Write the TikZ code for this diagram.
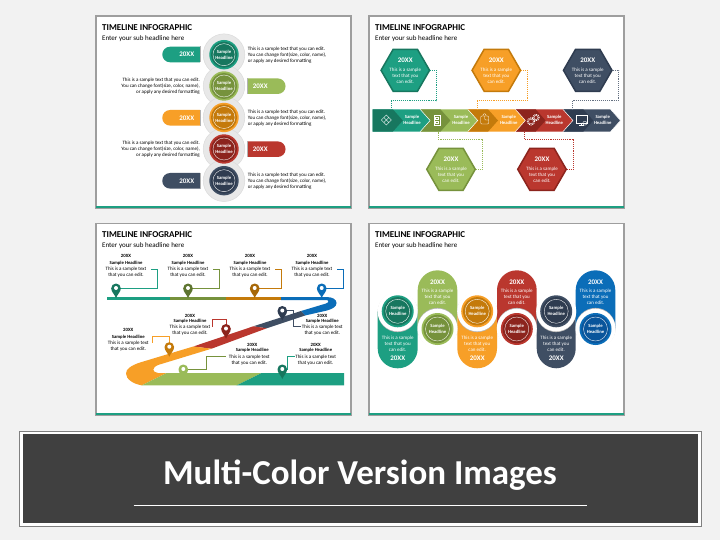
\documentclass[tikz,border=0pt]{standalone}
\usepackage{fontspec}
\setmainfont{Carlito}
\usetikzlibrary{shapes.geometric, shapes.misc}
\definecolor{cPage}{HTML}{F2F2F2}
\definecolor{cInk}{HTML}{404040}
\definecolor{cTeal}{HTML}{1D9F82}
\definecolor{cTealD}{HTML}{17775F}
\definecolor{cGreen}{HTML}{9ABB59}
\definecolor{cGreenD}{HTML}{76923C}
\definecolor{cOrange}{HTML}{F79F27}
\definecolor{cOrangeD}{HTML}{C47A0B}
\definecolor{cRed}{HTML}{BA372E}
\definecolor{cRedD}{HTML}{8C241D}
\definecolor{cNavy}{HTML}{3F4E63}
\definecolor{cNavyD}{HTML}{2F3C50}
\definecolor{cBlue}{HTML}{0B6DB8}
\definecolor{cBlueD}{HTML}{0A559B}
\tikzset{
    objSlide/.style={rectangle, fill=white, draw=black!38, line width=1.5pt, minimum width=255pt, minimum height=192pt, inner sep=0pt},
    objBar/.style={rectangle, fill=cTeal, minimum width=255pt, minimum height=2.3pt, inner sep=0pt},
    objTitle/.style={anchor=west, inner sep=0pt, font=\fontsize{9}{11}\selectfont\bfseries},
    objSub/.style={anchor=west, inner sep=0pt, font=\fontsize{7}{9}\selectfont},
    objBody/.style={inner sep=0pt, align=center, font=\fontsize{5}{6}\selectfont},
    objBodyW/.style={objBody, text=white},
    objBold/.style={objBody, font=\fontsize{4.7}{6}\selectfont\bfseries},
    objYear/.style={inner sep=0pt, font=\fontsize{7}{8}\selectfont\bfseries, text=white},
    objYearK/.style={inner sep=0pt, font=\fontsize{4.8}{6}\selectfont\bfseries},
    objHalo/.style={circle, fill=black!9, draw=black!14, line width=.5pt, minimum size=41.6pt, inner sep=0pt},
    objPillL/.style={rounded rectangle, rounded rectangle east arc=none, minimum width=37.7pt, minimum height=15.6pt, inner sep=0pt},
    objPillR/.style={rounded rectangle, rounded rectangle west arc=none, minimum width=37.7pt, minimum height=15.6pt, inner sep=0pt},
    objBevel/.style={black!30, line width=.7pt},
    objHex/.style={regular polygon, regular polygon sides=6, minimum size=48.5pt, line width=1.5pt, inner sep=0pt},
    objDots/.style={line width=.9pt, dash pattern=on 1pt off .9pt},
    objIcon/.style={white, line width=.4pt},
    objLead/.style={line width=.6pt},
    objNotch/.style={circle, fill=white, minimum size=40pt, inner sep=0pt},
    objShade/.style={circle, fill=black!28, minimum size=40pt, inner sep=0pt}
}
\newcommand{\sampleDisc}[5]{
    \node (#1ring) [circle, fill=#3, minimum size=#5pt, inner sep=0pt] at (#2) {};
    \node (#1band) [circle, fill=#4, minimum size=.885*#5pt, inner sep=0pt] at (#2) {};
    \node (#1) [circle, fill=#4, draw=white, line width=.35pt, minimum size=.75*#5pt, inner sep=0pt, text=white, align=center, font=\fontsize{4.7}{6}\selectfont\bfseries] at (#2) {Sample\\Headline};
}
\newcommand{\bandStep}[4]{
    \coordinate (#1) at (#2,109.3);
    \fill[#3] (#1) -- ++(47.6,0) -- ++(10,11.2) -- ++(-10,11.2) -- ++(-47.6,0) -- cycle;
    \draw[white, line width=.5pt] (#1) ++(47.6,0) -- ++(10,11.2) -- ++(-10,11.2);
    \fill[#4] (#1) -- ++(20.3,0) -- ++(10,11.2) -- ++(-10,11.2) -- ++(-20.3,0) -- cycle;
}
\newcommand{\mapPin}[2]{
    \fill[#2, shift={(#1)}] (0,10) .. controls (-1.2,6.5) and (-4.8,4) .. (-4.8,.3) .. controls (-4.8,-2.4) and (-2.7,-4.5) .. (0,-4.5) .. controls (2.7,-4.5) and (4.8,-2.4) .. (4.8,.3) .. controls (4.8,4) and (1.2,6.5) .. (0,10) -- cycle;
    \node (#1hole) [circle, fill=white, minimum size=4pt, inner sep=0pt] at (#1) {};
}
\begin{document}
\begin{tikzpicture}[x=1pt, y=-1pt, node distance=7.6pt]
    \useasboundingbox (0,0) rectangle (720,540);
    \fill[cPage] (0,0) rectangle (720,540);

    \node (slideA) [objSlide] at (223.5,112) {};
    \node (barA) [objBar] at (223.5,206.9) {};
    \node (slideB) [objSlide] at (496.5,112) {};
    \node (barB) [objBar] at (496.5,206.9) {};
    \node (slideC) [objSlide] at (223.5,319.5) {};
    \node (barC) [objBar] at (223.5,414.2) {};
    \node (slideD) [objSlide] at (496.5,319.5) {};
    \node (barD) [objBar] at (496.5,414.2) {};

    \node (titleA) [objTitle] at (102,27.3) {TIMELINE INFOGRAPHIC};
    \node (subA) [objSub] at (102,38.3) {Enter your sub headline here};
    \node (titleB) [objTitle] at (375,27.3) {TIMELINE INFOGRAPHIC};
    \node (subB) [objSub] at (375,38.3) {Enter your sub headline here};
    \node (titleC) [objTitle] at (102,234.3) {TIMELINE INFOGRAPHIC};
    \node (subC) [objSub] at (102,245.3) {Enter your sub headline here};
    \node (titleD) [objTitle] at (375,234.3) {TIMELINE INFOGRAPHIC};
    \node (subD) [objSub] at (375,245.3) {Enter your sub headline here};

    \node (halo1) [objHalo] at (224,54.7) {};
    \node (halo2) [objHalo] at (224,86) {};
    \node (halo3) [objHalo] at (224,117.5) {};
    \node (halo4) [objHalo] at (224,149) {};
    \node (halo5) [objHalo] at (224,180.7) {};
    \sampleDisc{disc1}{224,54.7}{cTeal}{cTealD}{29.4}
    \sampleDisc{disc2}{224,86}{cGreen}{cGreenD}{29.4}
    \sampleDisc{disc3}{224,117.5}{cOrange}{cOrangeD}{29.4}
    \sampleDisc{disc4}{224,149}{cRed}{cRedD}{29.4}
    \sampleDisc{disc5}{224,180.7}{cNavy}{cNavyD}{29.4}

    \node (pill1) [objPillL, fill=cTeal] at (181.1,54.5) {};
    \node (pill2) [objPillR, fill=cGreen] at (266.7,86.2) {};
    \node (pill3) [objPillL, fill=cOrange] at (181.1,117.8) {};
    \node (pill4) [objPillR, fill=cRed] at (266.7,149.2) {};
    \node (pill5) [objPillL, fill=cNavy] at (181.1,180.8) {};
    \draw[objBevel] (pill1.north east) -- (pill1.south east);
    \draw[objBevel] (pill2.north west) -- (pill2.south west);
    \draw[objBevel] (pill3.north east) -- (pill3.south east);
    \draw[objBevel] (pill4.north west) -- (pill4.south west);
    \draw[objBevel] (pill5.north east) -- (pill5.south east);
    \node (year1) [objYear] at (186.7,54.5) {20XX};
    \node (year2) [objYear] at (260.3,86.2) {20XX};
    \node (year3) [objYear] at (186.7,117.8) {20XX};
    \node (year4) [objYear] at (260.3,149.2) {20XX};
    \node (year5) [objYear] at (186.7,180.8) {20XX};

    \node (text1) [objBody, anchor=west, align=left] at (247.7,54.7) {This is a sample text that you can edit.\\You can change font(size, color, name),\\or apply any desired formatting};
    \node (text2) [objBody, anchor=east, align=right] at (200,86) {This is a sample text that you can edit.\\You can change font(size, color, name),\\or apply any desired formatting};
    \node (text3) [objBody, anchor=west, align=left] at (247.7,118) {This is a sample text that you can edit.\\You can change font(size, color, name),\\or apply any desired formatting};
    \node (text4) [objBody, anchor=east, align=right] at (200,149.3) {This is a sample text that you can edit.\\You can change font(size, color, name),\\or apply any desired formatting};
    \node (text5) [objBody, anchor=west, align=left] at (247.7,181) {This is a sample text that you can edit.\\You can change font(size, color, name),\\or apply any desired formatting};

    \bandStep{stepE}{562.9}{cNavy}{cNavyD}
    \bandStep{stepD}{515.3}{cRed}{cRedD}
    \bandStep{stepC}{467.7}{cOrange}{cOrangeD}
    \bandStep{stepB}{420.1}{cGreen}{cGreenD}
    \bandStep{stepA}{372.5}{cTeal}{cTealD}
    \node (headA) [objBold, text=white] at (412,120) {Sample\\Headline};
    \node (headB) [objBold, text=white] at (461,120) {Sample\\Headline};
    \node (headC) [objBold, text=white] at (508.7,120) {Sample\\Headline};
    \node (headD) [objBold, text=white] at (554.3,120) {Sample\\Headline};
    \node (headE) [objBold, text=white] at (602.7,120) {Sample\\Headline};

    \draw[objIcon] (381.3,120) -- (386.3,115) -- (391.3,120) -- (386.3,125) -- cycle (383.8,117.5) -- (388.8,122.5) (388.8,117.5) -- (383.8,122.5);
    \draw[objIcon] (434,115) rectangle (440,125) (435.5,117) rectangle (438.5,119.5) (435.5,121) rectangle (438.5,123.5);
    \draw[objIcon, rounded corners=1pt] (480.7,116) rectangle (488.7,124) (483,116) -- (483,113.8) -- (486,113.8) -- (486,116) (484.7,116) -- (484.7,120) -- (488.7,120);
    \draw[objIcon] (531,121.5) circle (2.4pt) (536,117.5) circle (2pt);
    \draw[white, line width=1pt, dash pattern=on .9pt off .9pt] (531,121.5) circle (3.6pt) (536,117.5) circle (3.1pt);
    \draw[objIcon] (575.8,115) rectangle (586.8,123) (579,125) -- (583.6,125) (581.3,123) -- (581.3,125);
    \draw[objIcon] (584.8,123.2) circle (2pt);

    \node (hexA) [objHex, fill=cTeal, draw=cTealD] at (405.3,70.3) {};
    \node (hexB) [objHex, fill=cOrange, draw=cOrangeD] at (496.3,70.3) {};
    \node (hexC) [objHex, fill=cNavy, draw=cNavyD] at (587.7,70.3) {};
    \node (hexD) [objHex, fill=cGreen, draw=cGreenD] at (451,169.3) {};
    \node (hexE) [objHex, fill=cRed, draw=cRedD] at (542,169.3) {};
    \node (hexAyear) [objYear] at (405.3,60.7) {20XX};
    \node (hexByear) [objYear] at (496.3,60.7) {20XX};
    \node (hexCyear) [objYear] at (587.7,60.7) {20XX};
    \node (hexDyear) [objYear] at (451,159.4) {20XX};
    \node (hexEyear) [objYear] at (542,159.4) {20XX};
    \node (hexAtext) [objBodyW] at (405.3,76) {This is a sample\\text that you\\can edit.};
    \node (hexBtext) [objBodyW] at (496.3,76) {This is a sample\\text that you\\can edit.};
    \node (hexCtext) [objBodyW] at (587.7,76) {This is a sample\\text that you\\can edit.};
    \node (hexDtext) [objBodyW] at (451,175) {This is a sample\\text that you\\can edit.};
    \node (hexEtext) [objBodyW] at (542,175) {This is a sample\\text that you\\can edit.};

    \coordinate (dropA) at (391,109.3);
    \coordinate (dropB) at (477,109.3);
    \coordinate (dropC) at (572,109.3);
    \coordinate (dropD) at (438,131.7);
    \coordinate (dropE) at (524.3,131.7);
    \draw[objDots, cTeal] (hexA.east) -- ++(5.7,0) -- ++(0,30.4) -| (dropA);
    \draw[objDots, cOrange] (hexB.east) -- ++(6,0) -- ++(0,30.4) -| (dropB);
    \draw[objDots, cNavy!80] (hexC.east) -- ++(6,0) -- ++(0,30.4) -| (dropC);
    \draw[objDots, cGreen] (hexD.east) -- ++(6,0) -- ++(0,-30.3) -| (dropD);
    \draw[objDots, cRed] (hexE.east) -- ++(6,0) -- ++(0,-30.3) -| (dropE);

    \fill[cTeal] (106.7,297) rectangle (170,300);
    \fill[cGreenD] (170,297) rectangle (225.7,300);
    \fill[cOrangeD] (225.7,297) rectangle (281,300);
    \fill[cBlue] (281,297) -- (326,297) .. controls (333,297) and (336.5,299.5) .. (336.5,303) .. controls (336.5,306.5) and (333,308.8) .. (327,310.5) -- (305,315.5) -- (301,311) -- (326,303.5) .. controls (329,302.5) and (329.5,300) .. (326,300) -- (281,300) -- cycle;
    \fill[cNavy] (253.3,326.3) -- (301,311) -- (305,315.5) -- (266.7,328.3) -- cycle;
    \fill[cRed] (193.3,346.5) -- (253.3,326.3) -- (266.7,328.3) -- (211.5,348.7) -- cycle;
    \fill[cOrange] (193.3,346.5) -- (140,362.5) .. controls (131,365.5) and (126,369) .. (126,373.5) .. controls (126,379) and (133,384) .. (141.7,385.3) -- (166.7,373) -- (158,373) .. controls (152,372) and (151.5,368) .. (158,365) -- (211.5,348.7) -- cycle;
    \fill[cGreen] (141.7,385.3) -- (166.7,373) -- (261.7,373) -- (236.7,385.3) -- cycle;
    \fill[cTeal] (236.7,385.3) -- (261.7,373) -- (344,373) -- (344,385.3) -- cycle;

    \coordinate (pinA) at (116,288);
    \coordinate (pinB) at (188,288);
    \coordinate (pinC) at (254.7,288);
    \coordinate (pinD) at (321.7,288);
    \coordinate (pinE) at (169.3,346.7);
    \coordinate (pinF) at (226,328.5);
    \coordinate (pinG) at (282.3,310.5);
    \coordinate (pinH) at (183.3,369);
    \coordinate (pinI) at (282.3,369);

    \node (yearA) [objYearK] at (126,255.7) {20XX};
    \node (nameA) [objBold, below of=yearA] {Sample Headline};
    \node (bodyA) [objBody, below of=nameA, yshift=-1.6pt] {This is a sample text\\that you can edit.};
    \node (yearB) [objYearK] at (188,255.7) {20XX};
    \node (nameB) [objBold, below of=yearB] {Sample Headline};
    \node (bodyB) [objBody, below of=nameB, yshift=-1.6pt] {This is a sample text\\that you can edit.};
    \node (yearC) [objYearK] at (250,255.7) {20XX};
    \node (nameC) [objBold, below of=yearC] {Sample Headline};
    \node (bodyC) [objBody, below of=nameC, yshift=-1.6pt] {This is a sample text\\that you can edit.};
    \node (yearD) [objYearK] at (312,255.7) {20XX};
    \node (nameD) [objBold, below of=yearD] {Sample Headline};
    \node (bodyD) [objBody, below of=nameD, yshift=-1.6pt] {This is a sample text\\that you can edit.};
    \node (yearE) [objYearK] at (128.3,330.3) {20XX};
    \node (nameE) [objBold, below of=yearE, yshift=1pt] {Sample Headline};
    \node (bodyE) [objBody, below of=nameE, yshift=-1.6pt] {This is a sample text\\that you can edit.};
    \node (yearF) [objYearK] at (190,315.7) {20XX};
    \node (nameF) [objBold, below of=yearF, yshift=2.3pt] {Sample Headline};
    \node (bodyF) [objBody, below of=nameF, yshift=-1.6pt] {This is a sample text\\that you can edit.};
    \node (yearG) [objYearK] at (322.3,315.7) {20XX};
    \node (nameG) [objBold, below of=yearG, yshift=2.3pt] {Sample Headline};
    \node (bodyG) [objBody, below of=nameG, yshift=-1.6pt] {This is a sample text\\that you can edit.};
    \node (yearH) [objYearK] at (252.3,345) {20XX};
    \node (nameH) [objBold, below of=yearH, yshift=1.9pt] {Sample Headline};
    \node (bodyH) [objBody, below of=nameH, xshift=-3pt, yshift=-1.6pt] {This is a sample text\\that you can edit.};
    \node (yearI) [objYearK] at (315.7,345) {20XX};
    \node (nameI) [objBold, below of=yearI, yshift=1.9pt] {Sample Headline};
    \node (bodyI) [objBody, below of=nameI, yshift=-1.6pt] {This is a sample text\\that you can edit.};

    \coordinate (leadA) at (151,269);
    \coordinate (leadB) at (212.7,269);
    \coordinate (leadC) at (275,269);
    \coordinate (leadD) at (337.3,269);
    \coordinate (leadE) at (152.3,343);
    \coordinate (leadF) at (212.3,327);
    \coordinate (leadG) at (300.7,326.3);
    \coordinate (leadH) at (226,356.7);
    \coordinate (leadI) at (295,356.7);
    \draw[objLead, cTeal] (pinA) -- ++(41.7,0) |- (leadA);
    \draw[objLead, cGreenD] (pinB) -- ++(31,0) |- (leadB);
    \draw[objLead, cOrangeD] (pinC) -- ++(26.7,0) |- (leadC);
    \draw[objLead, cBlue] (pinD) -- ++(21.3,0) |- (leadD);
    \draw[objLead, cOrange] (pinE) -- ++(0,-10.7) -| (leadE);
    \draw[objLead, cRed] (pinF) -- ++(0,-9.3) -| (leadF);
    \draw[objLead, cNavy] (pinG) -- ++(11,0) |- (leadG);
    \draw[objLead, cGreenD] (pinH) -- ++(23.4,0) |- (leadH);
    \draw[objLead, cTeal] (pinI) -- ++(5,0) |- (leadI);

    \mapPin{pinA}{cTealD}
    \mapPin{pinB}{cGreenD!80!black}
    \mapPin{pinC}{cOrangeD!85!black}
    \mapPin{pinD}{cBlue}
    \mapPin{pinE}{cOrangeD}
    \mapPin{pinF}{cRedD}
    \mapPin{pinG}{cNavyD}
    \mapPin{pinH}{cGreen}
    \mapPin{pinI}{cTealD}

    \fill[cTeal, rounded corners=19.8pt] (377.7,311.3) -- (377.7,368.3) -- (417.7,368.3) -- (417.7,311.3);
    \fill[cGreen, rounded corners=19.8pt] (417.7,328.7) -- (417.7,270.3) -- (457.3,270.3) -- (457.3,328.7);
    \fill[cOrange, rounded corners=19.8pt] (457.3,311.3) -- (457.3,368.3) -- (497,368.3) -- (497,311.3);
    \fill[cRed, rounded corners=19.8pt] (497,328.7) -- (497,270.3) -- (536.7,270.3) -- (536.7,328.7);
    \fill[cNavy, rounded corners=19.8pt] (536.7,311.3) -- (536.7,368.3) -- (575.7,368.3) -- (575.7,311.3);
    \fill[cBlue, rounded corners=19.8pt] (575.7,328.7) -- (575.7,270.3) -- (615.3,270.3) -- (615.3,328.7);

    \node (shade1) [objShade] at (397.7,312.1) {};
    \node (notch1) [objNotch] at (397.7,311.3) {};
    \node (shade2) [objShade] at (437.5,327.9) {};
    \node (notch2) [objNotch] at (437.5,328.7) {};
    \node (shade3) [objShade] at (477.2,312.1) {};
    \node (notch3) [objNotch] at (477.2,311.3) {};
    \node (shade4) [objShade] at (516.8,327.9) {};
    \node (notch4) [objNotch] at (516.8,328.7) {};
    \node (shade5) [objShade] at (556.2,312.1) {};
    \node (notch5) [objNotch] at (556.2,311.3) {};
    \node (shade6) [objShade] at (595.5,327.9) {};
    \node (notch6) [objNotch] at (595.5,328.7) {};

    \sampleDisc{wave1}{397.7,311.3}{cTeal}{cTealD}{32}
    \sampleDisc{wave2}{437.5,329}{cGreen}{cGreenD}{32}
    \sampleDisc{wave3}{477.2,311.3}{cOrange}{cOrangeD}{32}
    \sampleDisc{wave4}{516.8,329}{cRed}{cRedD}{32}
    \sampleDisc{wave5}{556.2,311.3}{cNavy}{cNavyD}{32}
    \sampleDisc{wave6}{595.5,329}{cBlue}{cBlueD}{32}

    \node (waveText1) [objBodyW] at (397.7,343.7) {This is a sample\\text that you\\can edit.};
    \node (waveYear1) [objYear] at (397.7,358) {20XX};
    \node (waveYear2) [objYear] at (437.5,282.3) {20XX};
    \node (waveText2) [objBodyW] at (437.5,296.7) {This is a sample\\text that you\\can edit.};
    \node (waveText3) [objBodyW] at (477.2,343.7) {This is a sample\\text that you\\can edit.};
    \node (waveYear3) [objYear] at (477.2,358) {20XX};
    \node (waveYear4) [objYear] at (516.8,282.3) {20XX};
    \node (waveText4) [objBodyW] at (516.8,296.7) {This is a sample\\text that you\\can edit.};
    \node (waveText5) [objBodyW] at (556.2,343.7) {This is a sample\\text that you\\can edit.};
    \node (waveYear5) [objYear] at (556.2,358) {20XX};
    \node (waveYear6) [objYear] at (595.5,282.3) {20XX};
    \node (waveText6) [objBodyW] at (595.5,296.7) {This is a sample\\text that you\\can edit.};

    \node (bannerBack) [rectangle, fill=white, draw=black!50, line width=.8pt, minimum width=682pt, minimum height=95pt] at (360.4,478.4) {};
    \node (banner) [rectangle, fill=cInk, minimum width=675pt, minimum height=89pt] at (360.4,478.5) {};
    \node (bannerText) [text=white, inner sep=0pt, font=\fontsize{35}{42}\selectfont\bfseries] at (360,475) {Multi-Color Version Images};
    \coordinate (ruleL) at (133.6,505);
    \coordinate (ruleR) at (587,505);
    \draw[white, line width=.6pt] (ruleL) -- (ruleR);

\end{tikzpicture}
\end{document}
